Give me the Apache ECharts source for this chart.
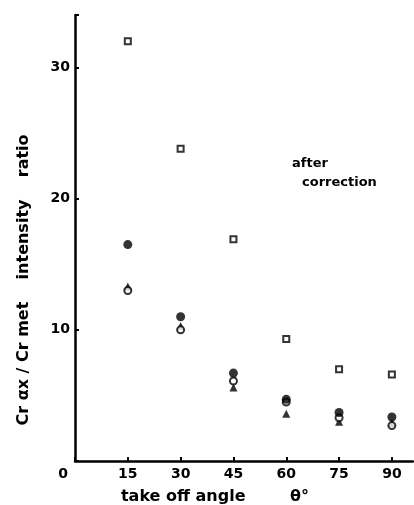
<!DOCTYPE html>
<html><head><meta charset="utf-8">
<script src="https://cdn.jsdelivr.net/npm/echarts@6/dist/echarts.min.js"></script>
<style>html,body{margin:0;padding:0;background:#fff}#c{width:414px;height:505px}</style>
</head><body><div id="c"></div>
<script>
var angles = [15, 30, 45, 60, 75, 90];
var squares = [32.0, 23.8, 16.9, 9.3, 7.0, 6.6];
var filledCircles = [16.5, 11.0, 6.7, 4.7, 3.7, 3.35];
var openCircles = [13.0, 10.0, 6.1, 4.5, 3.3, 2.7];
var triangles = [13.3, 10.3, 5.6, 3.6, 3.0, 2.9];
var xTicks = [0, 15, 30, 45, 60, 75, 90];
var yTicks = [10, 20, 30];

function pairs(v){ return angles.map(function(a,i){ return [a, v[i]]; }); }
var font = 'DejaVu Sans';
var chart = echarts.init(document.getElementById('c'));
chart.setOption({
  animation: false,
  backgroundColor: '#fff',
  grid: {left: 75, right: 1, top: 15, bottom: 44, containLabel: false, outerBoundsMode: 'none'},
  xAxis: {
    type: 'value', min: 0, max: 96, interval: 15,
    axisLine: {lineStyle: {color: '#000', width: 2.5}},
    axisTick: {inside: true, length: 4, lineStyle: {color: '#000', width: 2}},
    splitLine: {show: false},
    axisLabel: {
      color: '#000', fontFamily: font, fontWeight: 'bold', fontSize: 14, margin: 6,
      showMaxLabel: false,
      formatter: function(v){
        if (xTicks.indexOf(v) < 0) return '';
        return v === 0 ? '{z|0}' : String(v);
      },
      rich: {z: {color: '#000', fontFamily: font, fontWeight: 'bold', fontSize: 14, padding: [0, 24, 0, 0]}}
    },
    name: 'take off angle        θ°', nameLocation: 'middle', nameGap: 28,
    nameTextStyle: {color: '#000', fontFamily: font, fontWeight: 'bold', fontSize: 16, padding: [0, 58, 0, 0]}
  },
  yAxis: {
    type: 'value', min: 0, max: 34, interval: 10,
    axisLine: {lineStyle: {color: '#000', width: 2.5}},
    axisTick: {inside: true, length: 4, lineStyle: {color: '#000', width: 2}},
    splitLine: {show: false},
    axisLabel: {
      color: '#000', fontFamily: font, fontWeight: 'bold', fontSize: 14, margin: 5,
      formatter: function(v){ return yTicks.indexOf(v) >= 0 ? String(v) : ''; }
    },
    name: 'Cr αx / Cr met    intensity    ratio', nameLocation: 'middle', nameGap: 43,
    nameTextStyle: {color: '#000', fontFamily: font, fontWeight: 'bold', fontSize: 16, padding: [0, 84, 0, 0]}
  },
  graphic: [
    {type: 'text', left: 292, top: 157, style: {text: 'after', font: 'bold 13px "DejaVu Sans"', fill: '#000'}},
    {type: 'text', left: 302, top: 176, style: {text: 'correction', font: 'bold 13px "DejaVu Sans"', fill: '#000'}}
  ],
  series: [
    {type: 'scatter', data: pairs(squares), symbol: 'rect', symbolSize: 6,
     itemStyle: {color: '#fff', borderColor: '#000', borderWidth: 2}},
    {type: 'scatter', data: pairs(triangles), symbol: 'triangle', symbolSize: 8,
     itemStyle: {color: '#000'}},
    {type: 'scatter', data: pairs(openCircles), symbol: 'circle', symbolSize: 7,
     itemStyle: {color: '#fff', borderColor: '#000', borderWidth: 2}},
    {type: 'scatter', data: pairs(filledCircles), symbol: 'circle', symbolSize: 9,
     itemStyle: {color: '#000'}}
  ]
});
</script></body></html>
